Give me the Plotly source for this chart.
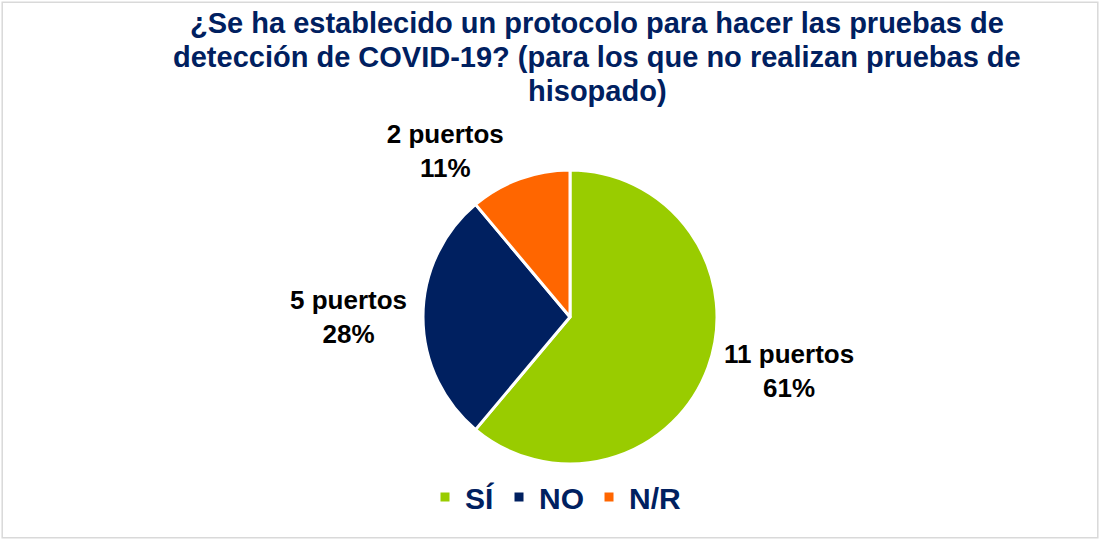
import plotly.graph_objects as go

categories = ["SÍ", "NO", "N/R"]
values = [11, 5, 2]
colors = ["#99CC00", "#002060", "#FF6600"]
title_lines = [
    "¿Se ha establecido un protocolo para hacer las pruebas de",
    "detección de COVID-19? (para los que no realizan pruebas de",
    "hisopado)",
]

W, H = 1100, 540
cx, cy, r = 570, 317, 147

total = sum(values)
texts = [f"{v} puertos<br>{round(100 * v / total)}%" for v in values]

fig = go.Figure(go.Pie(
    labels=categories,
    values=values,
    text=texts,
    textinfo="text",
    textposition="outside",
    sort=False,
    direction="clockwise",
    rotation=0,
    marker=dict(colors=colors, line=dict(color="white", width=3)),
    textfont=dict(family="Liberation Sans", size=26, color="black", weight="bold"),
    domain=dict(x=[(cx - r) / W, (cx + r) / W], y=[(H - cy - r) / H, (H - cy + r) / H]),
    hoverinfo="label+value+percent",
))

annotations = []
for i, line in enumerate(title_lines):
    annotations.append(dict(
        text=line, xref="paper", yref="paper", x=597 / W, y=1 - (23 + 34 * i) / H,
        xanchor="center", yanchor="middle", showarrow=False,
        font=dict(family="Liberation Sans", size=29, color="#002060", weight="bold"),
    ))

fig.update_layout(
    width=W, height=H,
    margin=dict(l=0, r=0, t=0, b=0),
    paper_bgcolor="white",
    plot_bgcolor="white",
    annotations=annotations,
    legend=dict(
        orientation="h",
        x=556 / W, xanchor="center",
        y=1 - 497 / H, yanchor="middle",
        font=dict(family="Liberation Sans", size=30, color="#002060", weight="bold"),
        itemwidth=30,
    ),
    shapes=[dict(type="rect", xref="paper", yref="paper", x0=0.002, x1=0.998, y0=0.004, y1=0.996,
                 line=dict(color="#D9D9D9", width=1.5))],
)

fig.write_html("out.html", config={"displayModeBar": False},
               post_script="document.body.style.margin='0';document.body.style.overflow='hidden';")
